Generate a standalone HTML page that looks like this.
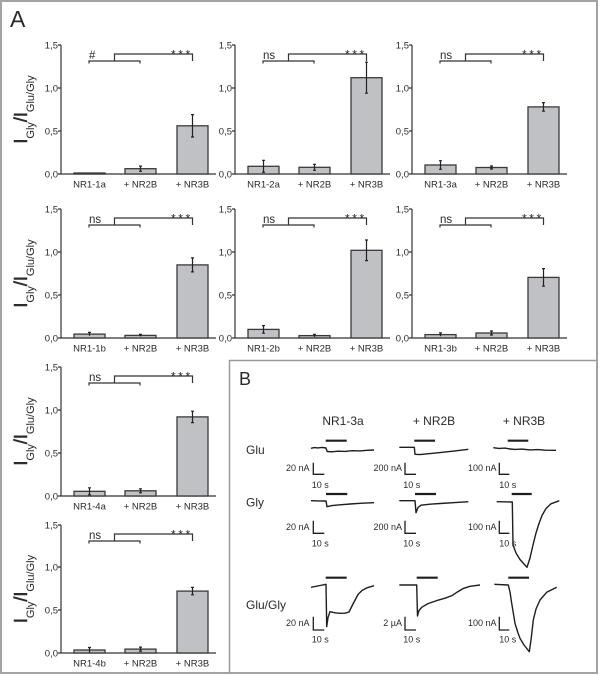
<!DOCTYPE html>
<html><head><meta charset="utf-8"><style>
html,body{margin:0;padding:0;background:#fff;}
svg{display:block;}
text{font-family:"Liberation Sans",Arial,sans-serif;fill:#2a2a2a;}
</style></head><body>
<svg width="600" height="675" viewBox="0 0 600 675" xmlns="http://www.w3.org/2000/svg">
<rect x="0" y="0" width="600" height="675" fill="#fff"/>
<rect x="1" y="1" width="596" height="672" fill="none" stroke="#a3a3a3" stroke-width="2"/>
<path d="M229.5,673 V360.5 H597" fill="none" stroke="#9a9a9a" stroke-width="1.5"/>

<text x="10" y="27" font-size="23">A</text>
<text x="239" y="385" font-size="18">B</text>

<!-- Y labels -->
<g font-size="18">
<text transform="translate(27,109.5) rotate(-90)" text-anchor="middle" stroke="#2a2a2a" stroke-width="0.5">I<tspan font-size="11" dy="7" stroke-width="0">Gly</tspan><tspan dy="-7">/I</tspan><tspan font-size="11" dy="7" stroke-width="0">Glu/Gly</tspan></text>
<text transform="translate(27,273.5) rotate(-90)" text-anchor="middle" stroke="#2a2a2a" stroke-width="0.5">I<tspan font-size="11" dy="7" stroke-width="0">Gly</tspan><tspan dy="-7">/I</tspan><tspan font-size="11" dy="7" stroke-width="0">Glu/Gly</tspan></text>
<text transform="translate(27,431.5) rotate(-90)" text-anchor="middle" stroke="#2a2a2a" stroke-width="0.5">I<tspan font-size="11" dy="7" stroke-width="0">Gly</tspan><tspan dy="-7">/I</tspan><tspan font-size="11" dy="7" stroke-width="0">Glu/Gly</tspan></text>
<text transform="translate(27,589) rotate(-90)" text-anchor="middle" stroke="#2a2a2a" stroke-width="0.5">I<tspan font-size="11" dy="7" stroke-width="0">Gly</tspan><tspan dy="-7">/I</tspan><tspan font-size="11" dy="7" stroke-width="0">Glu/Gly</tspan></text>
</g>

<!-- Chart template drawn per chart -->
<g stroke="#333" stroke-width="1.2" fill="none">
<!-- axes: chart 1 -->
<path d="M61,45 V174 H216 M58,45 H61 M58,88 H61 M58,131 H61 M58,174 H61"/>
<path d="M235,45 V174 H390 M232,45 H235 M232,88 H235 M232,131 H235 M232,174 H235"/>
<path d="M412,45 V174 H567 M409,45 H412 M409,88 H412 M409,131 H412 M409,174 H412"/>
<path d="M61,209 V338 H216 M58,209 H61 M58,252 H61 M58,295 H61 M58,338 H61"/>
<path d="M235,209 V338 H390 M232,209 H235 M232,252 H235 M232,295 H235 M232,338 H235"/>
<path d="M412,209 V338 H567 M409,209 H412 M409,252 H412 M409,295 H412 M409,338 H412"/>
<path d="M61,367 V496 H216 M58,367 H61 M58,410 H61 M58,453 H61 M58,496 H61"/>
<path d="M61,525 V653 H216 M58,525 H61 M58,567 H61 M58,610 H61 M58,653 H61"/>
</g>

<!-- bars -->
<g fill="#c0c1c4" stroke="#3a3a3a" stroke-width="1.3">
<!-- chart 1 -->
<rect x="74" y="173" width="31" height="1"/>
<rect x="125" y="168.7" width="31" height="5.3"/>
<rect x="177" y="125.8" width="31" height="48.2"/>
<!-- chart 2 -->
<rect x="248" y="166.3" width="31" height="7.7"/>
<rect x="299" y="167.3" width="31" height="6.7"/>
<rect x="351" y="77.7" width="31" height="96.3"/>
<!-- chart 3 -->
<rect x="425" y="165" width="31" height="9"/>
<rect x="476" y="167.5" width="31" height="6.5"/>
<rect x="528" y="106.9" width="31" height="67.1"/>
<!-- chart 4 -->
<rect x="74" y="334.1" width="31" height="3.9"/>
<rect x="125" y="335.4" width="31" height="2.6"/>
<rect x="177" y="264.9" width="31" height="73.1"/>
<!-- chart 5 -->
<rect x="248" y="329.4" width="31" height="8.6"/>
<rect x="299" y="335.6" width="31" height="2.4"/>
<rect x="351" y="250.3" width="31" height="87.7"/>
<!-- chart 6 -->
<rect x="425" y="334.6" width="31" height="3.4"/>
<rect x="476" y="333" width="31" height="5"/>
<rect x="528" y="277.4" width="31" height="60.6"/>
<!-- chart 7 -->
<rect x="74" y="491.3" width="31" height="4.7"/>
<rect x="125" y="490.8" width="31" height="5.2"/>
<rect x="177" y="416.9" width="31" height="79.1"/>
<!-- chart 8 -->
<rect x="74" y="650" width="31" height="3"/>
<rect x="125" y="649.1" width="31" height="3.9"/>
<rect x="177" y="591.1" width="31" height="61.9"/>
</g>

<!-- error bars -->
<g stroke="#222" stroke-width="1.2" fill="none">
<path d="M140.5,166.1 V171.3 M139,166.1 H142 M139,171.3 H142"/>
<path d="M192.5,114.6 V137 M191,114.6 H194 M191,137 H194"/>
<path d="M263.5,160.3 V172.3 M262,160.3 H265 M262,172.3 H265"/>
<path d="M314.5,164.3 V170.3 M313,164.3 H316 M313,170.3 H316"/>
<path d="M366.5,62.2 V93.2 M365,62.2 H368 M365,93.2 H368"/>
<path d="M440.5,160.7 V169.3 M439,160.7 H442 M439,169.3 H442"/>
<path d="M491.5,166 V169 M490,166 H493 M490,169 H493"/>
<path d="M543.5,102.6 V111.2 M542,102.6 H545 M542,111.2 H545"/>
<path d="M89.5,332.4 V335.8 M88,332.4 H91"/>
<path d="M140.5,334.4 V336.4 M139,334.4 H142"/>
<path d="M192.5,257.9 V271.9 M191,257.9 H194 M191,271.9 H194"/>
<path d="M263.5,325.6 V333.2 M262,325.6 H265 M262,333.2 H265"/>
<path d="M314.5,334.3 V336.9 M313,334.3 H316"/>
<path d="M366.5,240 V260.6 M365,240 H368 M365,260.6 H368"/>
<path d="M440.5,332.9 V336.3 M439,332.9 H442"/>
<path d="M491.5,331 V335 M490,331 H493 M490,335 H493"/>
<path d="M543.5,268.6 V286.2 M542,268.6 H545 M542,286.2 H545"/>
<path d="M89.5,487.8 V494.8 M88,487.8 H91 M88,494.8 H91"/>
<path d="M140.5,488.8 V492.8 M139,488.8 H142 M139,492.8 H142"/>
<path d="M192.5,411.2 V422.6 M191,411.2 H194 M191,422.6 H194"/>
<path d="M89.5,647.5 V652.5 M88,647.5 H91"/>
<path d="M140.5,647.1 V651.1 M139,647.1 H142 M139,651.1 H142"/>
<path d="M192.5,587.4 V594.8 M191,587.4 H194 M191,594.8 H194"/>
</g>

<!-- significance brackets -->
<g stroke="#333" stroke-width="1.2" fill="none">
<path d="M89,63.5 V61 H140 V63.5 M114.5,61 V54 H192.5 V61"/>
<path d="M263,63.5 V61 H314 V63.5 M288.5,61 V54 H366.5 V61"/>
<path d="M440,63.5 V61 H491 V63.5 M465.5,61 V54 H543.5 V61"/>
<path d="M89,227.5 V225 H140 V227.5 M114.5,225 V218 H192.5 V225"/>
<path d="M263,227.5 V225 H314 V227.5 M288.5,225 V218 H366.5 V225"/>
<path d="M440,227.5 V225 H491 V227.5 M465.5,225 V218 H543.5 V225"/>
<path d="M89,385.5 V383 H140 V385.5 M114.5,383 V376 H192.5 V383"/>
<path d="M89,543.5 V541 H140 V543.5 M114.5,541 V534 H192.5 V541"/>
</g>
<g font-size="11.5">
<text x="89" y="59">#</text>
<text x="263" y="59">ns</text>
<text x="440" y="59">ns</text>
<text x="89" y="223">ns</text>
<text x="263" y="223">ns</text>
<text x="440" y="223">ns</text>
<text x="89" y="381">ns</text>
<text x="89" y="539">ns</text>
</g>
<g font-size="12" letter-spacing="2.6">
<text x="171" y="58.5">***</text>
<text x="345" y="58.5">***</text>
<text x="522" y="58.5">***</text>
<text x="171" y="222.5">***</text>
<text x="345" y="222.5">***</text>
<text x="522" y="222.5">***</text>
<text x="171" y="380.5">***</text>
<text x="171" y="538.5">***</text>
</g>

<!-- tick labels -->
<g font-size="9.5" text-anchor="end">
<text x="58" y="48.5">1,5</text><text x="58" y="91.5">1,0</text><text x="58" y="134.5">0,5</text><text x="58" y="177.5">0,0</text>
<text x="232" y="48.5">1,5</text><text x="232" y="91.5">1,0</text><text x="232" y="134.5">0,5</text><text x="232" y="177.5">0,0</text>
<text x="409" y="48.5">1,5</text><text x="409" y="91.5">1,0</text><text x="409" y="134.5">0,5</text><text x="409" y="177.5">0,0</text>
<text x="58" y="212.5">1,5</text><text x="58" y="255.5">1,0</text><text x="58" y="298.5">0,5</text><text x="58" y="341.5">0,0</text>
<text x="232" y="212.5">1,5</text><text x="232" y="255.5">1,0</text><text x="232" y="298.5">0,5</text><text x="232" y="341.5">0,0</text>
<text x="409" y="212.5">1,5</text><text x="409" y="255.5">1,0</text><text x="409" y="298.5">0,5</text><text x="409" y="341.5">0,0</text>
<text x="58" y="370.5">1,5</text><text x="58" y="413.5">1,0</text><text x="58" y="456.5">0,5</text><text x="58" y="499.5">0,0</text>
<text x="58" y="528.5">1,5</text><text x="58" y="570.5">1,0</text><text x="58" y="613.5">0,5</text><text x="58" y="656.5">0,0</text>
</g>

<!-- x labels -->
<g font-size="9.5" text-anchor="middle">
<text x="89.5" y="187.5">NR1-1a</text><text x="140.5" y="187.5">+ NR2B</text><text x="192.5" y="187.5">+ NR3B</text>
<text x="263.5" y="187.5">NR1-2a</text><text x="314.5" y="187.5">+ NR2B</text><text x="366.5" y="187.5">+ NR3B</text>
<text x="440.5" y="187.5">NR1-3a</text><text x="491.5" y="187.5">+ NR2B</text><text x="543.5" y="187.5">+ NR3B</text>
<text x="89.5" y="351.5">NR1-1b</text><text x="140.5" y="351.5">+ NR2B</text><text x="192.5" y="351.5">+ NR3B</text>
<text x="263.5" y="351.5">NR1-2b</text><text x="314.5" y="351.5">+ NR2B</text><text x="366.5" y="351.5">+ NR3B</text>
<text x="440.5" y="351.5">NR1-3b</text><text x="491.5" y="351.5">+ NR2B</text><text x="543.5" y="351.5">+ NR3B</text>
<text x="89.5" y="509.5">NR1-4a</text><text x="140.5" y="509.5">+ NR2B</text><text x="192.5" y="509.5">+ NR3B</text>
<text x="89.5" y="666.5">NR1-4b</text><text x="140.5" y="666.5">+ NR2B</text><text x="192.5" y="666.5">+ NR3B</text>
</g>

<!-- Panel B -->
<g font-size="12">
<text x="343" y="425" text-anchor="middle">NR1-3a</text>
<text x="434" y="425" text-anchor="middle">+ NR2B</text>
<text x="524" y="425" text-anchor="middle">+ NR3B</text>
<text x="246" y="454">Glu</text>
<text x="246" y="506.5">Gly</text>
<text x="246" y="609">Glu/Gly</text>
</g>

<!-- stimulus bars -->
<g stroke="#1e1e1e" stroke-width="2.2">
<path d="M325.7,440.7 H346.7 M414.3,440.7 H435 M507.7,440.7 H528.3"/>
<path d="M326,494 H347.3 M415,494 H436 M511.7,494 H531.7"/>
<path d="M325.7,577.7 H346.7 M416.7,577.7 H437.7 M508.3,577.7 H529"/>
</g>

<!-- traces -->
<g stroke="#1e1e1e" stroke-width="1.4" fill="none" stroke-linejoin="round">
<path d="M311,448.3 L314,447.6 L318,447.9 L322,447.4 L326,448 L327.2,451.5 L332,451.8 L338,451.2 L345,451.4 L352,450.7 L360,450.9 L367,450.3 L374,450"/>
<path d="M399.3,447.3 L414.3,447.3 L415,454.3 L420,454.6 L430,453.6 L440,452.6 L455,450.9 L468.3,449.3"/>
<path d="M493.3,447.7 L499,448.4 L505,448.1 L510,449 L515,449.4 L522,449.1 L530,449.9 L538,449.6 L545,450.2 L556,450.3"/>

<path d="M311,500.7 L318,500.9 L326,501 L327,506.7 L332,505.6 L340,504.8 L350,504 L362,503.2 L374,502.7"/>
<path d="M399.3,500.7 L415,500.7 L416,512.7 L418,507.5 L421,505.2 L430,504.2 L440,503.5 L455,502.6 L468.3,501.7"/>
<path d="M496.7,501.7 L512.3,502 L513,545 L516,553 L520,559.5 L524,564 L527,567.3 L530,558 L533,545 L536,533 L539,523.5 L542,515.5 L546,508.5 L551,503.8 L559.3,500.7"/>

<path d="M311,587.3 L320,585.5 L326,584.3 L326.7,626.7 L328,617.5 L330,611.7 L335,612.8 L340,613.3 L345,613.2 L349,612 L353,604 L358,594.5 L362,590.5 L367,587.8 L374,585.7"/>
<path d="M399.3,585 L416.7,585 L417.5,616 L419,610.5 L421.7,607.3 L428,603.6 L436.7,600.6 L445,598.2 L452,595.6 L458,591.6 L463,588.6 L470,586.3 L480,585"/>
<path d="M494.3,584.3 L508.3,585 L510,592 L511.7,603.3 L515,623.3 L518,633 L520,638.3 L524,645 L529.3,651.7 L531,640 L533.3,620 L536,609 L540,600 L546.7,592.3 L556.7,587.3"/>
</g>

<!-- scale bars -->
<g stroke="#1e1e1e" stroke-width="1.3" fill="none">
<path d="M313.3,462.7 V474.3 H324.3 M405,462.7 V474.3 H416 M499.3,462.7 V474.3 H509.3"/>
<path d="M313.3,520.7 V533.3 H324.3 M405,520.7 V533.3 H416 M499.3,520.7 V533.3 H509.3"/>
<path d="M313.3,616.7 V630 H324.3 M405,616.7 V630 H416 M499.3,616.7 V630 H509.3"/>
</g>
<g font-size="9">
<g text-anchor="end">
<text x="309.5" y="471">20 nA</text><text x="402" y="471">200 nA</text><text x="496.5" y="471">100 nA</text>
<text x="309.5" y="530">20 nA</text><text x="402" y="530">200 nA</text><text x="496.5" y="530">100 nA</text>
<text x="309.5" y="626">20 nA</text><text x="402" y="626">2 µA</text><text x="496.5" y="626">100 nA</text>
</g>
<text x="311.7" y="488">10 s</text><text x="403.3" y="488">10 s</text><text x="499.3" y="488">10 s</text>
<text x="311.7" y="546.5">10 s</text><text x="403.3" y="546.5">10 s</text><text x="499.3" y="546.5">10 s</text>
<text x="311.7" y="642.5">10 s</text><text x="403.3" y="642.5">10 s</text><text x="499.3" y="642.5">10 s</text>
</g>
</svg>
</body></html>
